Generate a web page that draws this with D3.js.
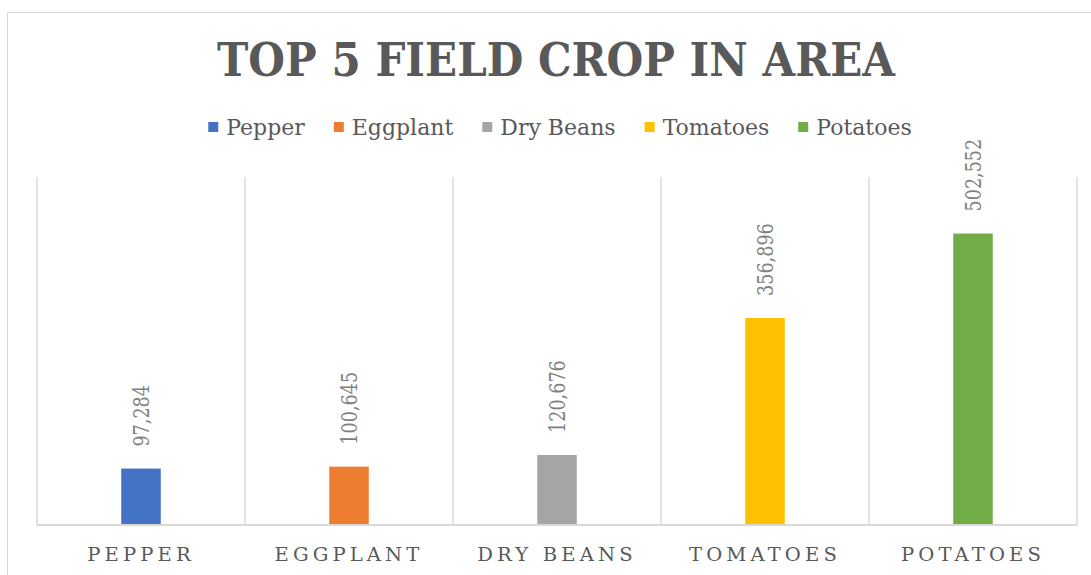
<!DOCTYPE html>
<html>
<head>
<meta charset="utf-8">
<script src="https://cdn.jsdelivr.net/npm/d3@7"></script>
<style>
  body { margin: 0; background: #fff; }
  svg { display: block; }
  text { font-family: "DejaVu Serif", "Liberation Serif", serif; }
</style>
</head>
<body>
<svg width="1091" height="575"></svg>
<script>
/* Top 5 field crop in area - column chart */

var crops = ["Pepper", "Eggplant", "Dry Beans", "Tomatoes", "Potatoes"];
var areas = [97284, 100645, 120676, 356896, 502552];
var colors = ["#4472C4", "#ED7D31", "#A5A5A5", "#FFC000", "#70AD47"];
var yMax = 600000;

var svg = d3.select("svg"),
    width = +svg.attr("width"),
    height = +svg.attr("height");

// chart frame
svg.append("rect")
    .attr("x", 7.5).attr("y", 12.5)
    .attr("width", width + 20).attr("height", height + 20)
    .attr("fill", "#fff")
    .attr("stroke", "#d9d9d9");

var plot = { left: 37, right: 1077, top: 177, bottom: 525 };

var x = d3.scaleBand()
    .domain(crops)
    .range([plot.left, plot.right]);

var y = d3.scaleLinear()
    .domain([0, yMax])
    .range([plot.bottom, plot.top]);

var barW = x.bandwidth() * 0.19;

// squeeze a text element horizontally by factor k
function squeeze(sel, k) {
    sel.each(function() {
        var w = this.getComputedTextLength();
        d3.select(this).attr("textLength", w * k).attr("lengthAdjust", "spacingAndGlyphs");
    });
}

// title
svg.append("text")
    .attr("x", 556).attr("y", 76)
    .attr("text-anchor", "middle")
    .attr("font-size", 46)
    .attr("font-weight", "bold")
    .attr("fill", "#595959")
    .attr("textLength", 678)
    .attr("lengthAdjust", "spacingAndGlyphs")
    .text("TOP 5 FIELD CROP IN AREA");

// legend
var legend = svg.append("g");
var lx = 0;
crops.forEach(function(c, i) {
    var g = legend.append("g").attr("transform", "translate(" + lx + ",0)");
    g.append("rect")
        .attr("x", 0).attr("y", -5)
        .attr("width", 10).attr("height", 10)
        .attr("fill", colors[i]);
    var t = g.append("text")
        .attr("x", 18).attr("y", 8)
        .attr("font-size", 22)
        .attr("fill", "#595959")
        .text(c);
    squeeze(t, 1.0);
    lx += 18 + (+t.attr("textLength")) + 29;
});
var lw = lx - 29;
legend.attr("transform", "translate(" + (560 - lw / 2) + ",127)");

// vertical gridlines at category boundaries
var bounds = crops.map(function(c) { return x(c); }).concat([plot.right]);
svg.append("g").selectAll("line")
    .data(bounds)
    .join("line")
    .attr("x1", function(d) { return d; })
    .attr("x2", function(d) { return d; })
    .attr("y1", plot.top)
    .attr("y2", plot.bottom)
    .attr("stroke", "#d9d9d9")
    .attr("stroke-width", 1.5);

// bars
svg.append("g").selectAll("rect")
    .data(areas)
    .join("rect")
    .attr("x", function(d, i) { return x(crops[i]) + x.bandwidth() / 2 - barW / 2; })
    .attr("y", function(d) { return y(d); })
    .attr("width", barW)
    .attr("height", function(d) { return plot.bottom - y(d); })
    .attr("fill", function(d, i) { return colors[i]; });

// baseline
svg.append("line")
    .attr("x1", plot.left).attr("x2", plot.right)
    .attr("y1", plot.bottom).attr("y2", plot.bottom)
    .attr("stroke", "#d9d9d9")
    .attr("stroke-width", 2);

// value labels, rotated
var fmt = d3.format(",");
svg.append("g").selectAll("text")
    .data(areas)
    .join("text")
    .attr("transform", function(d, i) {
        var cx = x(crops[i]) + x.bandwidth() / 2 + 8;
        return "translate(" + cx + "," + (y(d) - 22) + ") rotate(-90)";
    })
    .attr("font-size", 22)
    .attr("fill", "#808080")
    .text(function(d) { return fmt(d); })
    .call(squeeze, 0.8);

// category labels
svg.append("g").selectAll("text")
    .data(crops)
    .join("text")
    .attr("x", function(d) { return x(d) + x.bandwidth() / 2; })
    .attr("y", 561)
    .attr("text-anchor", "middle")
    .attr("font-size", 19)
    .attr("letter-spacing", 4)
    .attr("fill", "#595959")
    .text(function(d) { return d.toUpperCase(); })
    .call(squeeze, 1.03);
</script>
</body>
</html>
